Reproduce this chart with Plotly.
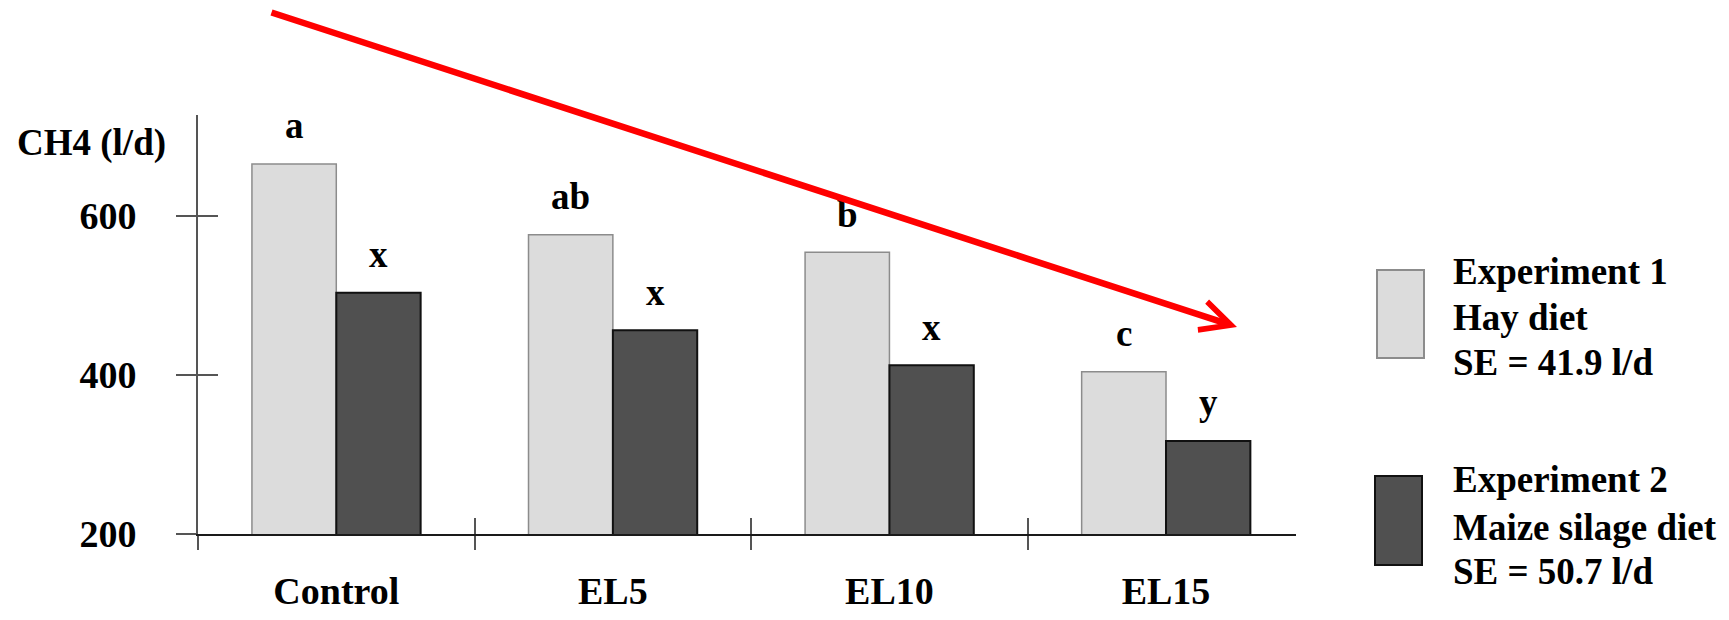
import plotly.graph_objects as go

# data
categories = ["Control", "EL5", "EL10", "EL15"]
exp1_hay = [665, 576, 554, 404]
exp2_maize = [503, 456, 412, 317]
exp1_letters = ["a", "ab", "b", "c"]
exp2_letters = ["x", "x", "x", "y"]
y_ticks = [200, 400, 600]

legend_names = ["Experiment 1", "Experiment 2"]
legend_diets = ["Hay diet", "Maize silage diet"]
legend_se = ["SE = 41.9 l/d", "SE = 50.7 l/d"]

# page coordinates (px) of the plot area; the html body adds an 8px margin
W, H = 1729, 620
BODY = 8
PLOT_L, PLOT_R, PLOT_T, PLOT_B = 198, 1296, 115, 534
FONT = "Liberation Serif, Times New Roman, serif"
LIGHT, DARK = "#dcdcdc", "#505050"
BARGAP = 0.39
Y_RANGE = [200, 726.5]
X_RANGE = [-0.5, 3.47]


def px_x(px):
    return (px - PLOT_L) / (PLOT_R - PLOT_L)


def px_y(py):
    return (PLOT_B - py) / (PLOT_B - PLOT_T)


def create_methane_plot() -> go.Figure:
    fig = go.Figure()

    fig.add_trace(go.Bar(
        x=categories, y=exp1_hay, name="Experiment 1",
        marker=dict(color=LIGHT, line=dict(color="#8c8c8c", width=1.5)),
    ))
    fig.add_trace(go.Bar(
        x=categories, y=exp2_maize, name="Experiment 2",
        marker=dict(color=DARK, line=dict(color="#111111", width=2)),
    ))
    # empty trace so the overlay axes (inner half of the ticks) get drawn
    fig.add_trace(go.Scatter(x=[], y=[], xaxis="x2", yaxis="y2",
                             showlegend=False, hoverinfo="skip"))

    # significance letters above each bar
    half = (1 - BARGAP) / 4
    for i in range(len(categories)):
        for vals, letters, off in ((exp1_hay, exp1_letters, -half),
                                   (exp2_maize, exp2_letters, half)):
            fig.add_annotation(
                x=i + off, y=vals[i], xref="x", yref="y",
                text=letters[i], showarrow=False,
                yanchor="middle", yshift=38,
                font=dict(family=FONT, size=37, color="black", weight="bold"),
            )

    # y-axis title at top-left
    fig.add_annotation(
        x=px_x(168), y=px_y(143), xref="paper", yref="paper",
        xanchor="right", yanchor="middle", showarrow=False,
        text="CH4 (l/d)",
        font=dict(family=FONT, size=37, color="black", weight="bold"),
    )

    # decreasing-trend arrow (tail given as pixel offset from the head)
    head_x, head_y, tail_x, tail_y = 1237, 327, 270, 12
    fig.add_annotation(
        x=px_x(head_x), y=px_y(head_y), xref="paper", yref="paper",
        ax=tail_x - head_x, ay=tail_y - head_y, axref="pixel", ayref="pixel",
        text="", showarrow=True, arrowhead=5, arrowsize=0.9,
        arrowwidth=6.5, arrowcolor="#ff0000",
    )

    # custom legend: tall swatches with three text lines
    swatches = [
        dict(fill=LIGHT, line="#8c8c8c", x0=1377, x1=1424, y0=270, y1=358, lines_y=(271, 317, 362)),
        dict(fill=DARK, line="#111111", x0=1375, x1=1422, y0=476, y1=565, lines_y=(479, 527, 571)),
    ]
    for k, sw in enumerate(swatches):
        fig.add_shape(
            type="rect", xref="paper", yref="paper",
            x0=px_x(sw["x0"]), x1=px_x(sw["x1"]),
            y0=px_y(sw["y1"]), y1=px_y(sw["y0"]),
            fillcolor=sw["fill"], line=dict(color=sw["line"], width=2),
        )
        for text, ly in zip((legend_names[k], legend_diets[k], legend_se[k]), sw["lines_y"]):
            fig.add_annotation(
                x=px_x(1451), y=px_y(ly), xref="paper", yref="paper",
                xanchor="left", yanchor="middle", showarrow=False, text=text,
                font=dict(family=FONT, size=37, color="black", weight="bold"),
            )

    tick_font = dict(family=FONT, size=38, color="black", weight="bold")
    fig.update_layout(
        width=W, height=H,
        barmode="group", bargap=BARGAP, bargroupgap=0,
        showlegend=False,
        plot_bgcolor="white", paper_bgcolor="white",
        margin=dict(l=PLOT_L - BODY, r=W - PLOT_R + BODY, t=PLOT_T - BODY,
                    b=H - PLOT_B + BODY, autoexpand=False),
        xaxis=dict(
            range=X_RANGE, showline=True, linecolor="#1a1a1a", linewidth=2,
            showgrid=False, zeroline=False,
            tickson="boundaries", ticks="outside", ticklen=14, tickwidth=2,
            tickcolor="#555555", tickfont=tick_font, ticklabelstandoff=22,
        ),
        xaxis2=dict(
            overlaying="x", range=X_RANGE, anchor="y2",
            tickvals=[i + 0.5 for i in range(len(categories) - 1)],
            ticks="inside", ticklen=16, tickwidth=2, tickcolor="#555555",
            showticklabels=False, showgrid=False, zeroline=False, showline=False,
        ),
        yaxis=dict(
            range=Y_RANGE, showline=True, linecolor="#555555", linewidth=2,
            showgrid=False, zeroline=False,
            tickvals=y_ticks, ticks="outside", ticklen=20, tickwidth=2,
            tickcolor="#555555", tickfont=tick_font, ticklabelstandoff=32,
        ),
        yaxis2=dict(
            overlaying="y", range=Y_RANGE, anchor="x2",
            tickvals=y_ticks, ticks="inside", ticklen=20, tickwidth=2,
            tickcolor="#555555", showticklabels=False, showgrid=False,
            zeroline=False, showline=False,
        ),
    )
    return fig


fig = create_methane_plot()
fig.write_html("out.html")
